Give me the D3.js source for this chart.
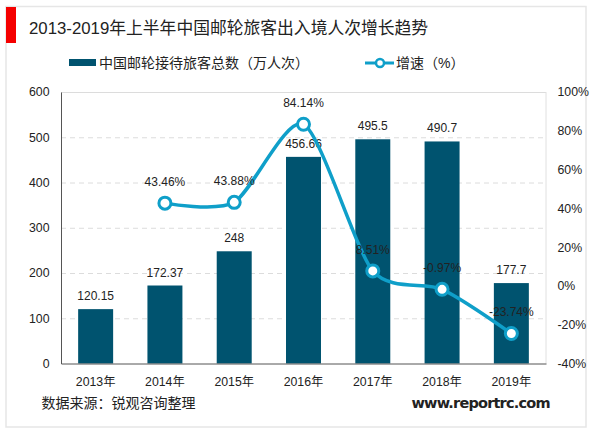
<!DOCTYPE html>
<html>
<head>
<meta charset="utf-8">
<script src="https://cdn.jsdelivr.net/npm/d3@7"></script>
<style>
  html, body { margin: 0; padding: 0; background: #fff; }
  text { font-family: "Liberation Sans", "Noto Sans CJK SC", sans-serif; fill: #222; }
</style>
</head>
<body>
<svg id="chart" width="600" height="433"></svg>
<script>
var years = ["2013年", "2014年", "2015年", "2016年", "2017年", "2018年", "2019年"];
var totals = [120.15, 172.37, 248, 456.66, 495.5, 490.7, 177.7];
var totalLabels = ["120.15", "172.37", "248", "456.66", "495.5", "490.7", "177.7"];
var growth = [null, 43.46, 43.88, 84.14, 8.51, -0.97, -23.74];
var growthLabels = ["", "43.46%", "43.88%", "84.14%", "8.51%", "-0.97%", "-23.74%"];
var leftTicks = [0, 100, 200, 300, 400, 500, 600];
var rightTicks = [-40, -20, 0, 20, 40, 60, 80, 100];

var svg = d3.select("#chart");
var left = 61, right = 546, top_ = 92, bottom = 363.5;
var barColor = "#00536f", lineColor = "#0f9fc9";

// frame and red tab
svg.append("rect").attr("x", 6).attr("y", 6.5).attr("width", 580).attr("height", 420.5)
  .attr("fill", "#fff").attr("stroke", "#e6e6e6").attr("stroke-width", 1.5);
svg.append("rect").attr("x", 6).attr("y", 7).attr("width", 10).attr("height", 36).attr("fill", "#f50000");

svg.append("text").attr("x", 29).attr("y", 34).attr("font-size", 16.8)
  .text("2013-2019年上半年中国邮轮旅客出入境人次增长趋势");

var x = d3.scaleBand().domain(years).range([left, right]).paddingInner(0.495).paddingOuter(0.2475);
var yLeft = d3.scaleLinear().domain([0, 600]).range([bottom, top_]);
// the line sits about 1.5px under the tick labels in the picture
var yRight = d3.scaleLinear().domain([-40, 100]).range([bottom + 1.5, top_ + 1.5]);
var cx = function(i) { return x(years[i]) + x.bandwidth() / 2; };

// grid
svg.append("g").selectAll("line").data(leftTicks.slice(1)).enter().append("line")
  .attr("x1", left).attr("x2", right)
  .attr("y1", function(d) { return yLeft(d) + 0.5; })
  .attr("y2", function(d) { return yLeft(d) + 0.5; })
  .attr("stroke", "#dcdcdc").attr("stroke-dasharray", function(d) { return d == 600 ? null : "5,4"; });
svg.append("line").attr("x1", right).attr("x2", right).attr("y1", top_).attr("y2", bottom).attr("stroke", "#e0e0e0");

// bars
svg.append("g").selectAll("rect").data(totals).enter().append("rect")
  .attr("x", function(d, i) { return x(years[i]); })
  .attr("y", function(d) { return yLeft(d); })
  .attr("width", x.bandwidth())
  .attr("height", function(d) { return bottom - yLeft(d); })
  .attr("fill", barColor);

// axes
var axisL = svg.append("g").attr("transform", "translate(" + left + ",0)")
  .call(d3.axisLeft(yLeft).tickValues(leftTicks).tickSize(0).tickPadding(11.5));
var axisR = svg.append("g").attr("transform", "translate(" + right + ",-1.5)")
  .call(d3.axisRight(yRight).tickValues(rightTicks).tickSize(0).tickPadding(11.5)
    .tickFormat(function(d) { return d + "%"; }));
var axisB = svg.append("g").attr("transform", "translate(0," + bottom + ")")
  .call(d3.axisBottom(x).tickSize(0).tickPadding(14));
axisR.select(".domain").remove();
axisL.select(".domain").attr("stroke", "#555").attr("stroke-width", 1);
axisB.select(".domain").attr("stroke", "#555").attr("stroke-width", 1);
svg.selectAll("g.tick text").attr("font-size", 12.3);
svg.selectAll("g.tick text").style("font-family", "'Liberation Sans', 'Noto Sans CJK SC', sans-serif");

// bar labels
svg.append("g").selectAll("text").data(totals).enter().append("text")
  .attr("x", function(d, i) { return cx(i); })
  .attr("y", function(d) { return yLeft(d) - 9; })
  .attr("text-anchor", "middle").attr("font-size", 12)
  .text(function(d, i) { return totalLabels[i]; });

// growth line
var pts = growth.map(function(d, i) { return { i: i, v: d }; }).filter(function(d) { return d.v !== null; });
var line = d3.line().x(function(d) { return cx(d.i); }).y(function(d) { return yRight(d.v); })
  .curve(d3.curveCardinal.tension(0.25));
svg.append("path").datum(pts).attr("d", line).attr("fill", "none")
  .attr("stroke", lineColor).attr("stroke-width", 3.5);
svg.append("g").selectAll("circle").data(pts).enter().append("circle")
  .attr("cx", function(d) { return cx(d.i); })
  .attr("cy", function(d) { return yRight(d.v); })
  .attr("r", 6).attr("fill", "#fff").attr("stroke", lineColor).attr("stroke-width", 3);

// growth labels
svg.append("g").selectAll("text").data(pts).enter().append("text")
  .attr("x", function(d) { return cx(d.i); })
  .attr("y", function(d) { return yRight(d.v) - 17; })
  .attr("text-anchor", "middle").attr("font-size", 12)
  .text(function(d) { return growthLabels[d.i]; });

// legend
svg.append("rect").attr("x", 69).attr("y", 59).attr("width", 27).attr("height", 7).attr("fill", barColor);
svg.append("text").attr("x", 99).attr("y", 67.5).attr("font-size", 14)
  .text("中国邮轮接待旅客总数（万人次）");
svg.append("line").attr("x1", 365).attr("x2", 394).attr("y1", 63).attr("y2", 63)
  .attr("stroke", lineColor).attr("stroke-width", 3);
svg.append("circle").attr("cx", 380).attr("cy", 63).attr("r", 4).attr("fill", "#fff")
  .attr("stroke", lineColor).attr("stroke-width", 2.5);
svg.append("text").attr("x", 396).attr("y", 67.5).attr("font-size", 14)
  .text("增速（%）");

// source and site
svg.append("text").attr("x", 41.5).attr("y", 408).attr("font-size", 14).text("数据来源：锐观咨询整理");
svg.append("text").attr("x", 411.5).attr("y", 408).attr("font-size", 14.5).attr("font-weight", "bold")
  .attr("textLength", 139).style("font-family", "'DejaVu Sans', sans-serif").text("www.reportrc.com");
</script>
</body>
</html>
